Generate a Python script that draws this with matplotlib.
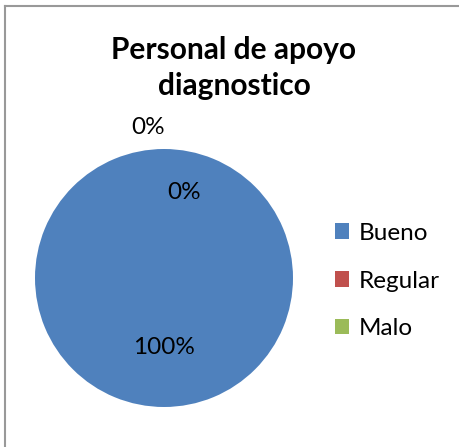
import matplotlib.pyplot as plt
from matplotlib.lines import Line2D
from matplotlib.patches import Patch

plt.rcParams['font.family'] = ['Lato', 'DejaVu Sans']

categorias = ['Bueno', 'Regular', 'Malo']
valores = [100, 0, 0]
colores = ['#4F81BD', '#C0504D', '#9BBB59']
titulo = 'Personal de apoyo\ndiagnostico'

W, H = 459, 447
fig = plt.figure(figsize=(W / 100, H / 100), dpi=100)

# marco del grafico (solo se ve arriba e izquierda)
fig.add_artist(Line2D([5 / W, 5 / W], [0, 1 - 6 / H], transform=fig.transFigure,
                      color='#999999', lw=1.5))
fig.add_artist(Line2D([5 / W, 1], [1 - 6 / H, 1 - 6 / H], transform=fig.transFigure,
                      color='#999999', lw=1.5))

ax = fig.add_axes([35 / W, 40 / H, 258 / W, 258 / H])
wedges, textos, pct = ax.pie(valores, colors=colores, startangle=90, counterclock=False,
                             autopct='%1.0f%%', pctdistance=0.535,
                             textprops={'fontsize': 17.5, 'color': 'black'})
ax.set_xlim(-1, 1)
ax.set_ylim(-1, 1)
ax.set_aspect('equal')

# etiquetas de los sectores de 0%
pct[1].set_position((0.155, 0.66))
pct[2].set_position((-0.124, 1.163))
pct[0].set_position((0.0, -0.535))

fig.text(234 / W, 1 - 68 / H, titulo, ha='center', va='center', fontsize=21.5,
         fontweight='bold', linespacing=1.38)

handles = [Patch(facecolor=c, edgecolor='none') for c in colores]
fig.legend(handles, categorias, loc='center left', bbox_to_anchor=(313 / W, 1 - 281 / H),
           frameon=False, fontsize=17.5, handlelength=0.6, handleheight=0.6,
           handletextpad=0.4, labelspacing=1.1)

fig.savefig('out.png', dpi=100)
